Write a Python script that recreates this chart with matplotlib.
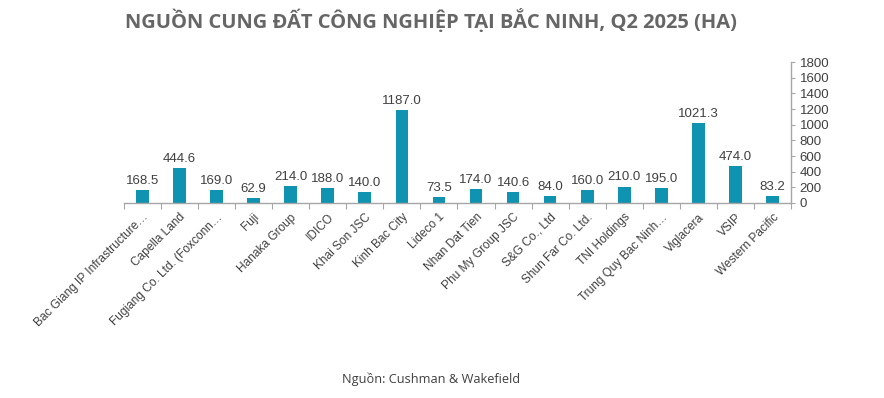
import numpy as np
import matplotlib.pyplot as plt

# ---- data ----
companies = [
    "Bac Giang IP Infrastructure…", "Capella Land", "Fugiang Co. Ltd. (Foxconn…",
    "Fuji", "Hanaka Group", "IDICO", "Khai Son JSC", "Kinh Bac City", "Lideco 1",
    "Nhan Dat Tien", "Phu My Group JSC", "S&G Co., Ltd", "Shun Far Co. Ltd.",
    "TNI Holdings", "Trung Quy Bac Ninh…", "Viglacera", "VSIP", "Western Pacific",
]
supply_ha = [168.5, 444.6, 169.0, 62.9, 214.0, 188.0, 140.0, 1187.0, 73.5,
             174.0, 140.6, 84.0, 160.0, 210.0, 195.0, 1021.3, 474.0, 83.2]
yticks = list(range(0, 1801, 200))

bar_color = "#0f93b0"
axis_gray = "#a6a6a6"
text_gray = "#404040"

plt.rcParams["font.family"] = ["Liberation Sans", "DejaVu Sans"]

fig = plt.figure(figsize=(8.84, 3.98), dpi=100)
ax = fig.add_axes([0.140, 0.490, 0.755, 0.354])

x = np.arange(len(companies))
ax.bar(x, supply_ha, width=0.34, color=bar_color, zorder=2)

# nhãn giá trị trên cột
for xi, v in zip(x, supply_ha):
    ax.text(xi, v + 40, f"{v:.1f}", ha="center", va="bottom",
            fontsize=9.5, color=text_gray)

ax.set_xlim(-0.5, len(companies) - 0.5)
ax.set_ylim(0, 1800)
ax.set_yticks(yticks)
ax.yaxis.tick_right()
ax.tick_params(axis="y", direction="out", length=3, color=axis_gray,
               labelsize=9.5, labelcolor=text_gray, pad=3)

# vạch chia giữa các nhóm, nhãn ở giữa
ax.set_xticks(np.arange(len(companies) + 1) - 0.5, minor=False)
ax.set_xticklabels([])
ax.set_xticks(x, minor=True)
ax.set_xticklabels(companies, minor=True, rotation=45, ha="right",
                   rotation_mode="anchor", fontsize=8.6, color=text_gray)
ax.tick_params(axis="x", which="major", direction="out", length=4, color=axis_gray)
ax.tick_params(axis="x", which="minor", length=0, pad=6)

for s in ["top", "left"]:
    ax.spines[s].set_visible(False)
for s in ["bottom", "right"]:
    ax.spines[s].set_color(axis_gray)
    ax.spines[s].set_linewidth(1)

fig.text(0.487, 0.948, "NGUỒN CUNG ĐẤT CÔNG NGHIỆP TẠI BẮC NINH, Q2 2025 (HA)",
         ha="center", va="center", fontsize=14.5, fontweight="bold",
         color="#666666", family=["Open Sans", "DejaVu Sans"])
fig.text(0.488, 0.048, "Nguồn: Cushman & Wakefield", ha="center", va="center",
         fontsize=9.2, color=text_gray, family=["Open Sans", "DejaVu Sans"])

fig.savefig("out.png", dpi=100)
